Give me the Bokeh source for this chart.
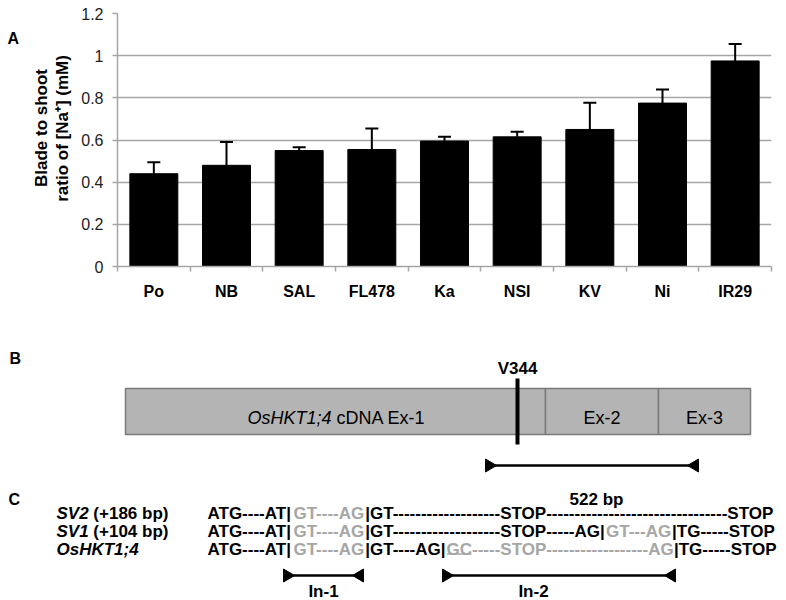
import numpy as np
from bokeh.plotting import figure
from bokeh.models import (Range1d, FixedTicker, NumeralTickFormatter, Whisker,
                          TeeHead, ColumnDataSource)
from bokeh.layouts import column, row
from bokeh.core.properties import value
from bokeh.embed import file_html
from bokeh.resources import INLINE

# ---------------- data (panel A) ----------------
categories = ["Po", "NB", "SAL", "FL478", "Ka", "NSI", "KV", "Ni", "IR29"]
ratio = [0.44, 0.48, 0.55, 0.555, 0.595, 0.615, 0.65, 0.775, 0.975]
err_up = [0.055, 0.11, 0.016, 0.10, 0.02, 0.024, 0.127, 0.065, 0.08]
y_ticks = [0, 0.2, 0.4, 0.6, 0.8, 1.0, 1.2]
y_label_lines = ["Blade to shoot", "ratio of [Na\u207a] (mM)"]

# ---------------- panel B (gene model) ----------------
exon_names = ["Ex-2", "Ex-3"]
exon_bounds = [125, 545, 658, 750]
snp_label = "V344"
amplicon_label = "522 bp"

# ---------------- panel C (splice variants) ----------------
row_labels = [[("SV2", "bold italic"), ("(+186 bp)", "bold")],
              [("SV1", "bold italic"), ("(+104 bp)", "bold")],
              [("OsHKT1;4", "bold italic")]]
K, G = "black", "#a6a6a6"
seq_rows = [
    [("ATG----AT|", K, False), ("GT----AG", G, False),
     ("|GT" + "-" * 19 + "STOP" + "-" * 32 + "STOP", K, False)],
    [("ATG----AT|", K, False), ("GT----AG", G, False),
     ("|GT" + "-" * 19 + "STOP-----AG|", K, False), ("GT---AG", G, False),
     ("|TG-----STOP", K, False)],
    [("ATG----AT|", K, False), ("GT----AG", G, False), ("|GT----AG|", K, False),
     ("GC", G, True), ("-----STOP" + "-" * 18 + "AG", G, False),
     ("|TG-----STOP", K, False)],
]
intron_labels = ["In-1", "In-2"]

FONT = "Liberation Sans"
GRAY = "#a6a6a6"
SEQ_SIZE = 17
# Arial/Liberation Sans Bold advance widths (1/1000 em) for the sequence glyphs
ADV = {"A": 722, "T": 611, "G": 778, "C": 722, "S": 667, "O": 778, "P": 667,
       "-": 333, "|": 280, " ": 278, "2": 556, "V": 667, "1": 556}


def adv(s, size):
    return sum(ADV.get(c, 556) for c in s) / 1000.0 * size


def txt(fig, x, y, s, size, style="normal", color="black", align="left",
        baseline="alphabetic", angle=0.0):
    fig.text(x=[x], y=[y], text=[s], text_font=value(FONT), text_font_size=size,
             text_font_style=style, text_color=color, text_align=align,
             text_baseline=baseline, angle=angle)


def blank(fig):
    fig.outline_line_color = None
    fig.xgrid.visible = False
    fig.ygrid.visible = False
    fig.min_border = 0


# ================= Panel A: left strip with label =================
pl = figure(width=78, height=306, x_range=Range1d(0, 78), y_range=Range1d(-306, 0),
            x_axis_type=None, y_axis_type=None, output_backend="svg",
            toolbar_location=None)
blank(pl)
txt(pl, 7, -30, "A", "16px", "bold")
txt(pl, 41, -138.5, y_label_lines[0], "17px", "bold", align="center",
    baseline="middle", angle=np.pi / 2)
txt(pl, 62, -139, y_label_lines[1], "17px", "bold", align="center",
    baseline="middle", angle=np.pi / 2)

# ================= Panel A: bar chart =================
xs = [i + 0.5 for i in range(len(categories))]
src = ColumnDataSource(dict(x=xs, ratio=ratio,
                            upper=[r + e for r, e in zip(ratio, err_up)]))

p = figure(width=708, height=306, x_range=Range1d(0, len(categories)),
           y_range=Range1d(0, 1.2), output_backend="svg", toolbar_location=None,
           min_border_left=37, min_border_right=15, min_border_top=13,
           min_border_bottom=40)
p.outline_line_color = None
p.xgrid.visible = False
yt = FixedTicker(ticks=y_ticks, minor_ticks=[])
p.yaxis.ticker = yt
p.ygrid.ticker = yt
p.ygrid.grid_line_color = GRAY
p.ygrid.grid_line_width = 1.5
p.yaxis.formatter = NumeralTickFormatter(format="0.[0]")
p.yaxis.axis_line_color = GRAY
p.yaxis.axis_line_width = 1.5
p.yaxis.major_tick_line_color = GRAY
p.yaxis.major_tick_line_width = 1.5
p.yaxis.major_tick_out = 5
p.yaxis.major_tick_in = 0
p.yaxis.minor_tick_out = 0
p.yaxis.minor_tick_in = 0
p.yaxis.major_label_standoff = 9
p.yaxis.major_label_text_font = FONT
p.yaxis.major_label_text_font_size = "16px"
p.yaxis.major_label_text_color = "#222222"

p.xaxis.ticker = FixedTicker(ticks=xs, minor_ticks=list(range(len(categories) + 1)))
p.xaxis.major_label_overrides = {x: c for x, c in zip(xs, categories)}
p.xaxis.axis_line_color = GRAY
p.xaxis.axis_line_width = 1.5
p.xaxis.major_tick_out = 0
p.xaxis.major_tick_in = 0
p.xaxis.minor_tick_out = 5
p.xaxis.minor_tick_in = 0
p.xaxis.minor_tick_line_color = GRAY
p.xaxis.minor_tick_line_width = 1.5
p.xaxis.major_label_standoff = 11
p.xaxis.major_label_text_font = FONT
p.xaxis.major_label_text_font_size = "16px"
p.xaxis.major_label_text_font_style = "bold"
p.xaxis.major_label_text_color = "black"

p.vbar(x="x", top="ratio", width=0.66, source=src, fill_color="black",
       line_color="black")
p.add_layout(Whisker(base="x", lower="ratio", upper="upper", source=src,
                     line_color="black", line_width=2, lower_head=None,
                     upper_head=TeeHead(size=13, line_color="black", line_width=2)))

# ================= Panels B and C =================
q = figure(width=786, height=294, x_range=Range1d(0, 786), y_range=Range1d(-600, -306),
           x_axis_type=None, y_axis_type=None, output_backend="svg",
           toolbar_location=None)
blank(q)

# --- B ---
txt(q, 9, -358, "B", "16px", "bold")
q.quad(left=exon_bounds[:-1], right=exon_bounds[1:], top=-388, bottom=-434,
       fill_color="#b4b4b4", line_color="#7a7a7a", line_width=1.5)
txt(q, 247, -417.5, "OsHKT1;4", "18px", "italic")
txt(q, 336, -417.5, "cDNA Ex-1", "18px")
for name, a, b in zip(exon_names, exon_bounds[1:-1], exon_bounds[2:]):
    txt(q, (a + b) / 2, -417.5, name, "18px", align="center")
q.segment(x0=[517], y0=[-378], x1=[517], y1=[-444], line_color="black", line_width=4)
txt(q, 517, -368, snp_label, "17px", "bold", align="center")


def dimension(fig, x0, x1, y):
    fig.segment(x0=[x0], y0=[y], x1=[x1], y1=[y], line_color="black", line_width=2.5)
    fig.patches(xs=[[x0, x0, x0 + 11], [x1, x1, x1 - 11]],
                ys=[[y + 6.5, y - 6.5, y], [y + 6.5, y - 6.5, y]],
                fill_color="black", line_color="black")


dimension(q, 485, 698, -465)
txt(q, 596, -499, amplicon_label, "17px", "bold", align="center")

# --- C ---
txt(q, 8, -499, "C", "16px", "bold")
baselines = [512.5, 530.8, 549]
for lab, segs, yb in zip(row_labels, seq_rows, baselines):
    x = 56
    for s, st in lab:
        txt(q, x, -yb, s, "17px", st)
        x += adv(s + " ", SEQ_SIZE)
    x = 207
    for s, col, under in segs:
        txt(q, x, -yb, s, "%dpx" % SEQ_SIZE, "bold", color=col)
        wdt = adv(s, SEQ_SIZE)
        if under:
            q.segment(x0=[x + 0.5], y0=[-(yb + 4.5)], x1=[x + wdt - 0.5],
                      y1=[-(yb + 4.5)], line_color=col, line_width=1.5)
        x += wdt

dimension(q, 283, 363, -575)
dimension(q, 442, 675, -575)
txt(q, 323, -591, intron_labels[0], "17px", "bold", align="center")
txt(q, 533, -591, intron_labels[1], "17px", "bold", align="center")

layout = column(row(pl, p), q)
open("out.html", "w").write(file_html(layout, INLINE))
